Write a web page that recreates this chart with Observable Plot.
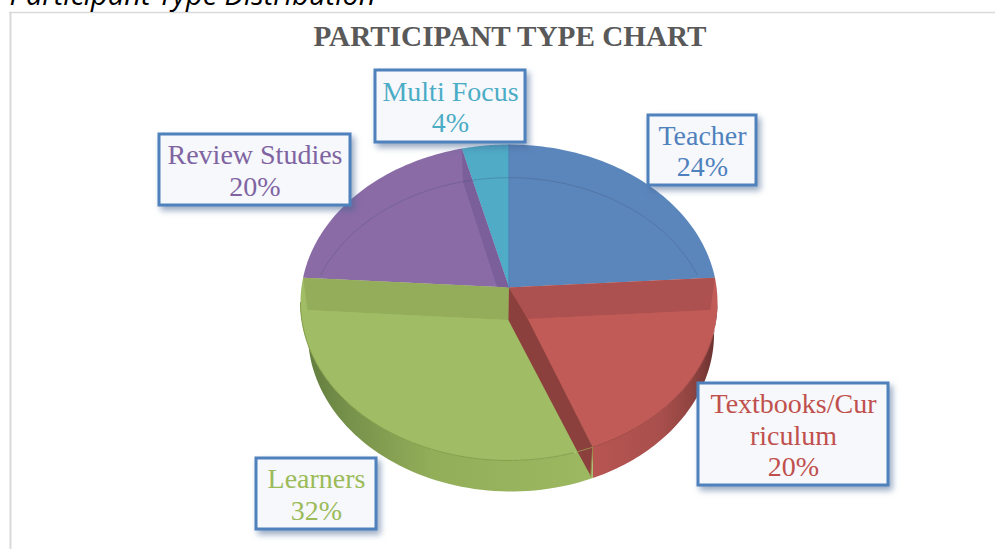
<!DOCTYPE html>
<html>
<head>
<meta charset="utf-8">
<script src="https://cdn.jsdelivr.net/npm/d3@7"></script>
<script src="https://cdn.jsdelivr.net/npm/@observablehq/plot@0.6"></script>
<style>
html,body{margin:0;padding:0;background:#fff;overflow:hidden}
svg{display:block}
g[aria-label="rect"] rect{filter:drop-shadow(3px 4px 3px rgba(70,100,145,.55))}
</style>
</head>
<body>
<div id="chart"></div>
<script>
// ---- data ----
const categories = ["Teacher", "Textbooks/Curriculum", "Learners", "Review Studies", "Multi Focus"];
const shares = [24, 20, 32, 20, 4];
const labelNames = ["Teacher", "Textbooks/Cur\nriculum", "Learners", "Review Studies", "Multi Focus"];
const sliceColors = ["#5b86bc", "#c05b57", "#a0bc64", "#8a6ba6", "#4fabc6"];
const labelColors = ["#4f81bd", "#c0504d", "#9bbb59", "#8064a2", "#4bacc6"];
const title = "PARTICIPANT TYPE CHART";
const heading = "Participant Type Distribution";

// ---- layout: label boxes in page pixels [left, top, right, bottom] ----
const labelBoxes = [
  [648, 115, 756, 185],
  [698, 383, 888, 485],
  [256, 458, 376, 529],
  [159, 134, 350, 205],
  [375, 70, 525, 142]
];

// ---- pie geometry: the scales map the unit disc to the page ----
const xRange = [300, 717], yRange = [460, 144];
const px2x = d3.scaleLinear(xRange, [-1, 1]);
const px2y = d3.scaleLinear(yRange, [-1, 1]);
const tilt = 0.095;        // perspective shift of the pie's centre
const rimDrop = 0.196;     // thickness of the disc
const lowWidth = 0.974;    // the disc's lower outline is a little narrower
const lowShift = 0.0096;   // and sits a little to the right
const recess = 0.2;        // drop of the sunken faces

const total = d3.sum(shares);
const edges = d3.cumsum(shares).map(v => v / total * 2 * Math.PI);
const starts = [0, ...edges.slice(0, -1)];

// perspective projection of an angle on the unit circle
function persp(t, r = 1) {
  const u = r * Math.sin(t), v = r * Math.cos(t), w = 1 + tilt * v;
  return [u * Math.sqrt(1 - tilt * tilt) / w, (v + tilt) / w];
}
const apex = persp(0, 0);
function sector(a, b) {
  const pts = [apex];
  for (let i = 0; i <= 60; i++) pts.push(persp(a + (b - a) * i / 60));
  return pts;
}
const ell = th => [Math.sin(th), Math.cos(th)];
const arc = (a, b) => d3.range(0, 61).map(i => ell(a + (b - a) * i / 60));
const clampUnit = v => Math.max(-1, Math.min(1, v));
function sideBand(a, b) {
  const top = arc(a, b);
  const lowA = Math.PI - Math.asin(clampUnit((Math.sin(a) - lowShift) / lowWidth));
  const lowB = Math.PI - Math.asin(clampUnit((Math.sin(b) - lowShift) / lowWidth));
  const low = d3.range(0, 61).map(i => {
    const th = lowA + (lowB - lowA) * i / 60;
    return [lowShift + lowWidth * Math.sin(th), Math.cos(th) - rimDrop];
  });
  return [...top, ...low.reverse()];
}
// recessed ring: a shifted ellipse, cut by the disc outline
const ringC = -0.18, ringR = 0.97;
const ring = th => [ringR * Math.sin(th), ringC + ringR * Math.cos(th)];
const cut = p => { const n = Math.hypot(p[0], p[1]); return n > 1 ? [p[0] / n, p[1] / n] : p; };
const corner = t => { const p = persp(t); return [p[0] * 0.978, p[1] - recess - 0.005]; };
const ringAngle = p => Math.atan2(p[0] / ringR, (p[1] - ringC) / ringR);
const norm = a => a < 0 ? a + 2 * Math.PI : a;
function innerArc(a, b, stopX, dir) {
  const pts = [];
  for (let i = 0; i <= 120; i++) {
    const p = cut(ring(a + (b - a) * i / 120));
    if (dir * (p[0] - stopX) >= 0) pts.push(p);
  }
  return pts;
}
function onDisc(x) { return [x, -Math.sqrt(1 - x * x)]; }

const tRedStart = edges[0], tRedEnd = edges[1], tGreenEnd = edges[2], tPurpleEnd = edges[3];
const redOuter = persp(tRedEnd);
const redCorner = corner(tRedStart), greenCorner = corner(tGreenEnd);
const apexRed = [apex[0] + 0.09, apex[1] - recess];
const apexGreen = [apex[0] - 0.003, apex[1] - recess - 0.005];
const greenTip = onDisc(redOuter[0] - 0.0735);
const thSplit = Math.PI - Math.asin(redOuter[0]);

const redFace = [apexRed, ...innerArc(ringAngle(redCorner), Math.PI, redOuter[0], 1), redOuter];
const greenFace = [apexGreen, greenTip,
  ...innerArc(Math.PI, norm(ringAngle(greenCorner)), -2, 1).filter(p => p[0] < greenTip[0])];
const redBand = [apex, persp(tRedStart), redCorner, apexRed];
const greenBand = [apex, persp(tGreenEnd), greenCorner, apexGreen];
const wallFoot = [redOuter[0] - 0.01, onDisc(redOuter[0])[1] - rimDrop + 0.013];
const wall = [apex, apexRed, redOuter, wallFoot, greenTip, apexGreen];
const purpleEdge = persp(tPurpleEnd);
const purpleWall = [purpleEdge, apex, [apex[0] - 0.058, apex[1] + 0.006], [purpleEdge[0] + 0.006, purpleEdge[1] - 0.21]];

const ringLine = d3.range(0, 121).map(i => {
  const a = norm(ringAngle(greenCorner)) - 2 * Math.PI, b = ringAngle(redCorner);
  return ring(a + (b - a) * i / 120);
}).filter(p => p[1] >= 0.155);

const shapes = [
  {pts: sideBand(Math.PI / 2, thSplit), fill: "url(#sideRed)"},
  {pts: sideBand(thSplit, 1.5 * Math.PI), fill: "url(#sideGreen)"},
  ...shares.map((s, i) => ({pts: sector(starts[i], edges[i]), fill: sliceColors[i]})),
  {pts: redBand, fill: "#ad5150"},
  {pts: greenBand, fill: "#94ad5a"},
  {pts: redFace, fill: sliceColors[1]},
  {pts: greenFace, fill: sliceColors[2]},
  {pts: wall, fill: "#8b403d"},
  {pts: purpleWall, fill: "#7a5f9b"}
];

const gradients = () => {
  const defs = d3.create("svg:g");
  const d = defs.append("defs");
  const add = (id, stops) => {
    const g = d.append("linearGradient").attr("id", id);
    stops.forEach(([o, c]) => g.append("stop").attr("offset", o).attr("stop-color", c));
  };
  add("sideGreen", [[0, "#5f7a3c"], [0.16, "#76914a"], [0.45, "#93ae59"], [1, "#9cb860"]]);
  add("sideRed", [[0, "#b85552"], [0.55, "#a84f4c"], [0.8, "#8f4340"], [1, "#66302e"]]);
  return defs.node();
};

const marks = [
  gradients,
  // page frame and cut-off heading above it
  Plot.ruleX([px2x(10)], {y1: px2y(549), y2: px2y(12), stroke: "#d9d9d9", strokeWidth: 2}),
  Plot.ruleY([px2y(12)], {x1: px2x(9), x2: px2x(995), stroke: "#d9d9d9", strokeWidth: 1.5}),
  Plot.text([heading], {
    x: px2x(9), y: px2y(4), text: d => d, textAnchor: "start", lineAnchor: "bottom",
    fontFamily: "'Open Sans'", fontStyle: "italic", fontSize: 29, fill: "#000"
  }),
  Plot.text([title], {
    x: px2x(509.5), y: px2y(36), text: d => d, fontFamily: "'Liberation Serif'", fontWeight: "bold",
    fontSize: 29.2, fill: "#595959"
  }),
  ...shapes.map(s => Plot.line(s.pts, {x: d => d[0], y: d => d[1], fill: s.fill, stroke: "none"})),
  Plot.line(ringLine, {x: d => d[0], y: d => d[1], stroke: "#3d4a6b", strokeOpacity: 0.28, strokeWidth: 1}),
  // thin edges: front of the faces, slice borders
  Plot.line(arc(thSplit, 1.5 * Math.PI).filter(p => p[0] < greenTip[0] + 0.001), {x: d => d[0], y: d => d[1], stroke: "#869f4c", strokeWidth: 1}),
  Plot.line(arc(Math.PI / 2, thSplit).filter(p => p[1] < -0.2), {x: d => d[0], y: d => d[1], stroke: "#a24a47", strokeWidth: 1}),
  Plot.line([greenTip, redOuter, wallFoot], {x: d => d[0], y: d => d[1], stroke: "#9a8a4a", strokeWidth: 1}),
  Plot.line([apex, persp(0)], {x: d => d[0], y: d => d[1], stroke: "#4f7fb5", strokeWidth: 1}),
  Plot.rect(labelBoxes, {
    x1: d => px2x(d[0]), x2: d => px2x(d[2]), y1: d => px2y(d[1]), y2: d => px2y(d[3]),
    fill: "#f6f8fb", stroke: "#4f81bd", strokeWidth: 3
  }),
  ...categories.map((c, i) => {
    const b = labelBoxes[i];
    return Plot.text([`${labelNames[i]}\n${shares[i]}%`], {
      x: px2x((b[0] + b[2]) / 2), y: px2y((b[1] + b[3]) / 2), text: d => d,
      fontFamily: "'Liberation Serif'", fontSize: 28, lineHeight: 1.12, fill: labelColors[i]
    });
  })
];

const chart = Plot.plot({
  width: 995, height: 549,
  marginTop: 0, marginRight: 0, marginBottom: 0, marginLeft: 0,
  style: {background: "#fff", overflow: "hidden"},
  x: {domain: [-1, 1], range: xRange, axis: null},
  y: {domain: [-1, 1], range: yRange, axis: null},
  marks
});
document.getElementById("chart").append(chart);
</script>
</body>
</html>
